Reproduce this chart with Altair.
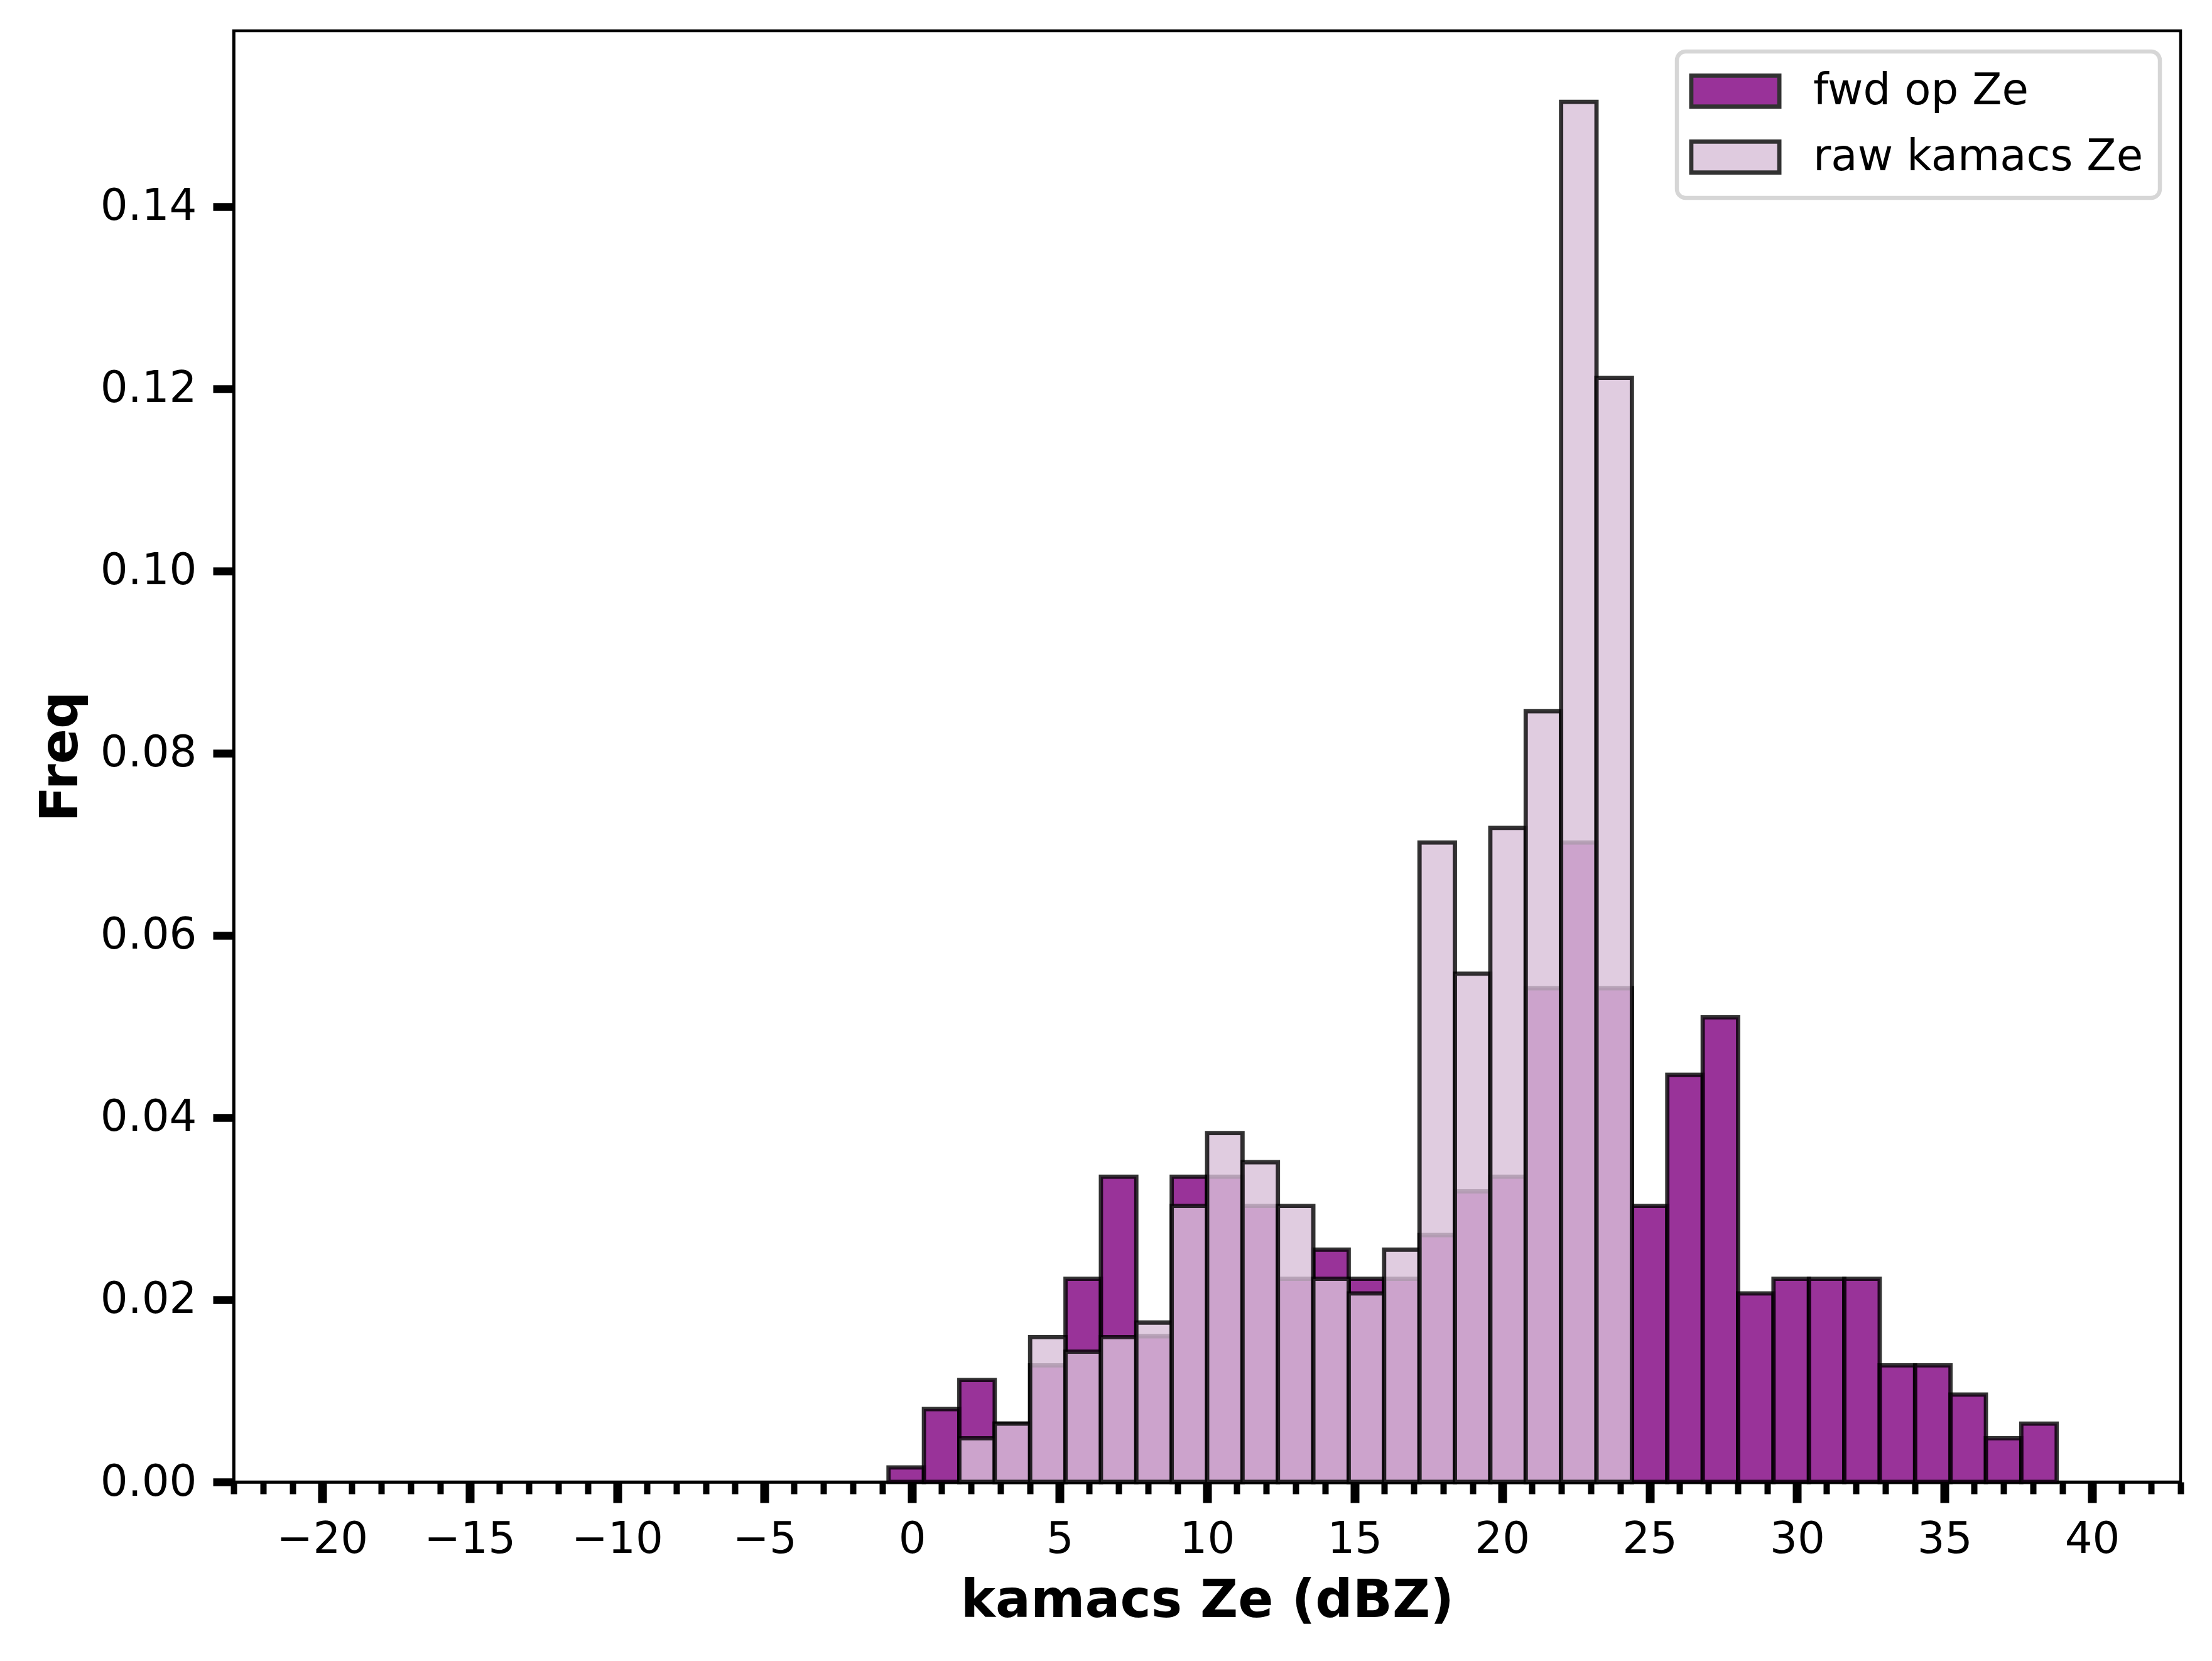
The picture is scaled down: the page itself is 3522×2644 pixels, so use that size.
import altair as alt
import pandas as pd

# histogram bin edges (dBZ)
bin_lo = [-0.8, 0.4, 1.6, 2.8, 4.0, 5.2, 6.4, 7.6, 8.8, 10.0, 11.2, 12.4, 13.6, 14.8,
          16.0, 17.2, 18.4, 19.6, 20.8, 22.0, 23.2, 24.4, 25.6, 26.8, 28.0, 29.2,
          30.4, 31.6, 32.8, 34.0, 35.2, 36.4, 37.6]
bin_hi = [0.4, 1.6, 2.8, 4.0, 5.2, 6.4, 7.6, 8.8, 10.0, 11.2, 12.4, 13.6, 14.8, 16.0,
          17.2, 18.4, 19.6, 20.8, 22.0, 23.2, 24.4, 25.6, 26.8, 28.0, 29.2, 30.4,
          31.6, 32.8, 34.0, 35.2, 36.4, 37.6, 38.8]

fwd_freq = [0.0016, 0.0080, 0.0112, 0.0064, 0.0128, 0.0223, 0.0335, 0.0160, 0.0335,
            0.0335, 0.0303, 0.0223, 0.0255, 0.0223, 0.0223, 0.0271, 0.0319, 0.0335,
            0.0542, 0.0702, 0.0542, 0.0303, 0.0447, 0.0510, 0.0207, 0.0223, 0.0223,
            0.0223, 0.0128, 0.0128, 0.0096, 0.0048, 0.0064]
raw_freq = [0.0, 0.0, 0.0048, 0.0064, 0.0159, 0.0143, 0.0159, 0.0175, 0.0303, 0.0383,
            0.0351, 0.0303, 0.0223, 0.0207, 0.0255, 0.0702, 0.0558, 0.0718, 0.0846,
            0.1515, 0.1212, 0.0, 0.0, 0.0, 0.0, 0.0, 0.0, 0.0, 0.0, 0.0, 0.0, 0.0, 0.0]

series_names = ["fwd op Ze", "raw kamacs Ze"]
series_colors = ["#800080", "#d8bfd8"]

x_ticks = list(range(-23, 44))
y_ticks = [0.0, 0.02, 0.04, 0.06, 0.08, 0.10, 0.12, 0.14]

rows = []
for k, (name, vals) in enumerate(zip(series_names, [fwd_freq, raw_freq])):
    for lo, hi, v in zip(bin_lo, bin_hi, vals):
        if v > 0:
            rows.append({"series": name, "lo": lo, "hi": hi, "freq": v, "order": k})
df = pd.DataFrame(rows)

FONT = "DejaVu Sans"

chart = alt.Chart(df).mark_rect(
    fillOpacity=0.8, stroke="black", strokeOpacity=0.8, strokeWidth=6.8
).encode(
    x=alt.X("lo:Q",
            scale=alt.Scale(domain=[-23, 43], nice=False, zero=False),
            axis=alt.Axis(
                values=x_ticks,
                format="d",
                labelExpr="datum.value % 5 === 0 ? datum.label : ''",
                tickSize={"condition": {"test": "datum.value % 5 === 0", "value": 33}, "value": 19},
                tickWidth={"condition": {"test": "datum.value % 5 === 0", "value": 14}, "value": 10},
                tickColor="black",
                labelFont=FONT, labelFontSize=69, labelColor="black",
                labelPadding=24, labelFlush=False, labelOverlap=False,
                grid=False, domainColor="black", domainWidth=4.5,
                title="kamacs Ze (dBZ)", titleFont=FONT, titleFontSize=83,
                titleFontWeight="bold", titleColor="black", titlePadding=22,
            )),
    x2="hi:Q",
    y=alt.Y("freq:Q",
            scale=alt.Scale(domain=[0, 0.1593], nice=False),
            axis=alt.Axis(
                values=y_ticks, format=".2f",
                tickSize=33, tickWidth=12.5, tickColor="black",
                labelFont=FONT, labelFontSize=69, labelColor="black",
                labelPadding=26, labelFlush=False, labelOverlap=False,
                grid=False, domainColor="black", domainWidth=4.5,
                title="Freq", titleFont=FONT, titleFontSize=83,
                titleFontWeight="bold", titleColor="black", titlePadding=33,
            )),
    y2=alt.datum(0),
    color=alt.Color("series:N",
                    scale=alt.Scale(domain=series_names, range=series_colors),
                    legend=alt.Legend(
                        title=None, orient="top-right", offset=33,
                        symbolType="M-2.1,-0.74H2.1V0.74H-2.1Z",
                        symbolSize=4456,
                        symbolStrokeColor="black", symbolStrokeWidth=6.8,
                        symbolOpacity=0.8, symbolOffset=30,
                        labelFont=FONT, labelFontSize=69, labelColor="black",
                        labelOffset=87, labelLimit=1200,
                        padding=26, rowPadding=27,
                        strokeColor="#d6d6d6", fillColor="white",
                        cornerRadius=14,
                    )),
    order=alt.Order("order:Q"),
).properties(
    width=3100, height=2310,
    padding={"left": 364, "top": 41, "right": 30, "bottom": 260},
    autosize=alt.AutoSizeParams(type="none"),
).configure_view(
    stroke="black", strokeWidth=4.5
).configure_legend(
    strokeWidth=6.5
)

chart.save("out.html", embed_options={"renderer": "svg", "actions": False})
